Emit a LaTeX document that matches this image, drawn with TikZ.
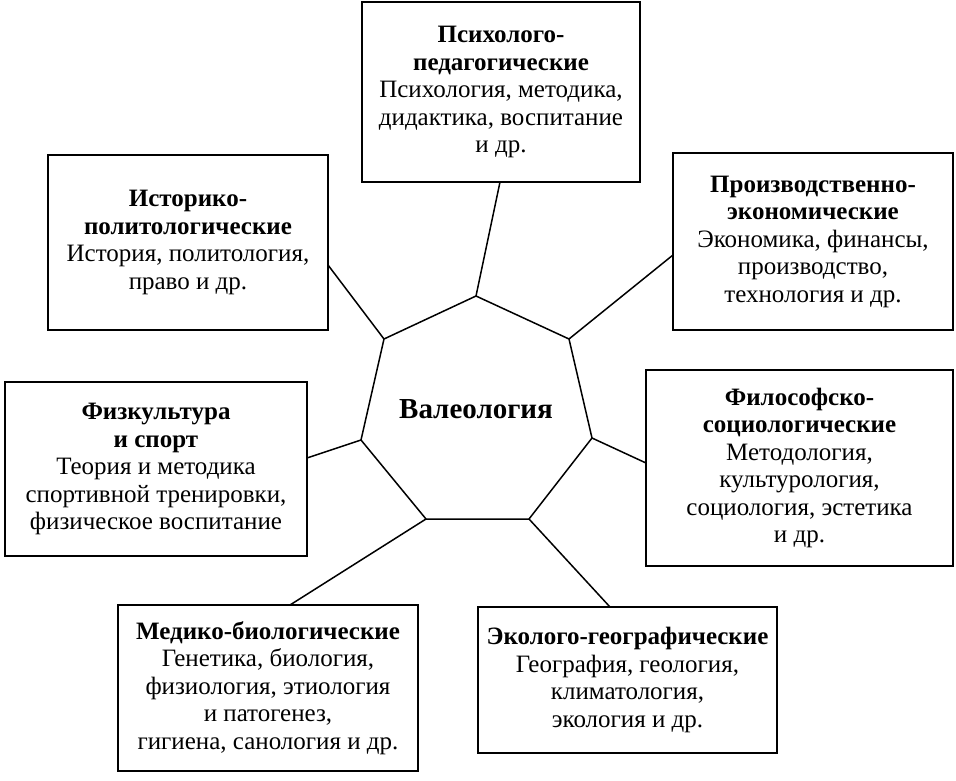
\documentclass[tikz,border=0pt]{standalone}
\usepackage{fontspec}
\setmainfont{Liberation Serif}
\begin{document}
\begin{tikzpicture}[x=1pt,y=-1pt,
  box/.style={draw,line width=1.6pt,align=center,inner sep=0pt,font=\fontsize{25}{27.5}\selectfont},
  ln/.style={line width=1.5pt}]
\useasboundingbox (0,0) rectangle (956,781);
\node[box,minimum width=278,minimum height=180] (psy) at (501,92) {\textbf{Психолого-}\\\textbf{педагогические}\\Психология, методика,\\дидактика, воспитание\\и др.};
\node[box,minimum width=280,minimum height=175] (hist) at (188,242.5) {\textbf{Историко-}\\\textbf{политологические}\\История, политология,\\право и др.};
\node[box,minimum width=280,minimum height=177] (prod) at (813,241.5) {\textbf{Производственно-}\\\textbf{экономические}\\Экономика, финансы,\\производство,\\технология и др.};
\node[box,minimum width=302,minimum height=174] (fiz) at (156,469) {\textbf{Физкультура}\\\textbf{и спорт}\\Теория и методика\\спортивной тренировки,\\физическое воспитание};
\node[box,minimum width=307,minimum height=196] (phil) at (799.5,468) {\textbf{Философско-}\\\textbf{социологические}\\Методология,\\культурология,\\социология, эстетика\\и др.};
\node[box,minimum width=300,minimum height=166] (med) at (268,688) {\textbf{Медико-биологические}\\Генетика, биология,\\физиология, этиология\\и патогенез,\\гигиена, санология и др.};
\node[box,minimum width=299,minimum height=146] (eco) at (627.5,680) {\textbf{Эколого-географические}\\География, геология,\\климатология,\\экология и др.};
\coordinate (v1) at (476,296);
\coordinate (v2) at (569,339);
\coordinate (v3) at (592,438);
\coordinate (v4) at (529,519);
\coordinate (v5) at (426,519);
\coordinate (v6) at (361,440);
\coordinate (v7) at (384,339);
\node[font=\fontsize{29}{32}\selectfont\bfseries] (val) at (476,409) {Валеология};
\draw[ln,line join=miter] (v1)--(v2)--(v3)--(v4)--(v5)--(v6)--(v7)--cycle;
\coordinate (e1) at (500,182);
\coordinate (e2) at (673,255);
\coordinate (e3) at (646,463);
\coordinate (e4) at (610,607);
\coordinate (e5) at (290,605);
\coordinate (e6) at (307,458);
\coordinate (e7) at (328,265);
\foreach \i in {1,...,7} \draw[ln] (v\i)--(e\i);
\end{tikzpicture}
\end{document}
